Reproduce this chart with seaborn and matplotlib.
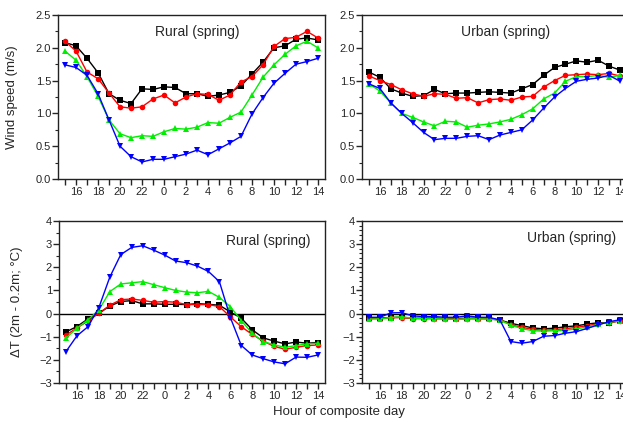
import matplotlib
matplotlib.use("Agg")
import matplotlib.pyplot as plt
import numpy as np
import pandas as pd
import seaborn as sns
from matplotlib.ticker import MultipleLocator, FixedLocator

# hours of the composite day (15:00 -> 14:00 next day)
hours = [15, 16, 17, 18, 19, 20, 21, 22, 23, 0, 1, 2, 3, 4, 5, 6, 7, 8, 9, 10, 11, 12, 13, 14]
series_names = ["s1", "s2", "s3", "s4"]
series_colors = ["#000000", "#ff0000", "#00ee00", "#0000ff"]
series_markers = ["s", "o", "^", "v"]

# wind speed, rural (m/s)
rural_ws_s1 = [2.08, 2.03, 1.84, 1.62, 1.30, 1.20, 1.15, 1.375, 1.365, 1.405, 1.395, 1.30,
               1.30, 1.26, 1.28, 1.32, 1.42, 1.60, 1.78, 2.00, 2.03, 2.13, 2.15, 2.12]
rural_ws_s2 = [2.10, 1.95, 1.63, 1.53, 1.31, 1.10, 1.08, 1.10, 1.22, 1.28, 1.16, 1.25,
               1.30, 1.29, 1.20, 1.28, 1.48, 1.56, 1.74, 2.02, 2.14, 2.16, 2.25, 2.15]
rural_ws_s3 = [1.95, 1.81, 1.56, 1.26, 0.90, 0.69, 0.63, 0.66, 0.65, 0.72, 0.77, 0.76,
               0.79, 0.86, 0.85, 0.94, 1.02, 1.28, 1.55, 1.74, 1.90, 2.03, 2.10, 2.00]
rural_ws_s4 = [1.74, 1.70, 1.58, 1.30, 0.90, 0.50, 0.34, 0.26, 0.30, 0.30, 0.34, 0.38,
               0.44, 0.37, 0.46, 0.55, 0.65, 0.99, 1.24, 1.46, 1.61, 1.75, 1.79, 1.84]

# wind speed, urban (m/s)
urban_ws_s1 = [1.63, 1.55, 1.375, 1.31, 1.26, 1.27, 1.365, 1.30, 1.31, 1.31, 1.32, 1.33,
               1.32, 1.31, 1.375, 1.44, 1.58, 1.70, 1.75, 1.80, 1.78, 1.81, 1.72, 1.66]
urban_ws_s2 = [1.57, 1.50, 1.44, 1.36, 1.30, 1.26, 1.30, 1.29, 1.23, 1.24, 1.16, 1.21,
               1.22, 1.20, 1.25, 1.26, 1.40, 1.50, 1.58, 1.59, 1.60, 1.59, 1.61, 1.57]
urban_ws_s3 = [1.45, 1.34, 1.16, 1.00, 0.94, 0.87, 0.81, 0.88, 0.87, 0.79, 0.82, 0.84,
               0.87, 0.91, 0.98, 1.07, 1.22, 1.31, 1.49, 1.56, 1.56, 1.58, 1.55, 1.58]
urban_ws_s4 = [1.45, 1.38, 1.16, 1.00, 0.86, 0.71, 0.60, 0.62, 0.62, 0.65, 0.66, 0.60,
               0.67, 0.71, 0.75, 0.90, 1.08, 1.25, 1.38, 1.49, 1.52, 1.54, 1.58, 1.49]

# delta T (2m - 0.2m), rural
rural_dt_s1 = [-0.79, -0.56, -0.23, 0.01, 0.33, 0.52, 0.56, 0.42, 0.42, 0.40, 0.40, 0.39,
               0.43, 0.40, 0.36, 0.07, -0.20, -0.70, -1.05, -1.19, -1.31, -1.23, -1.28, -1.25]
rural_dt_s2 = [-0.93, -0.62, -0.32, 0.01, 0.36, 0.60, 0.63, 0.57, 0.49, 0.52, 0.49, 0.39,
               0.39, 0.39, 0.30, -0.14, -0.57, -0.90, -1.19, -1.42, -1.54, -1.46, -1.38, -1.36]
rural_dt_s3 = [-1.06, -0.63, -0.27, 0.16, 0.95, 1.28, 1.33, 1.38, 1.25, 1.12, 1.00, 0.93,
               0.90, 0.96, 0.70, 0.30, -0.30, -0.86, -1.21, -1.35, -1.46, -1.38, -1.31, -1.28]
rural_dt_s4 = [-1.64, -0.96, -0.57, 0.26, 1.58, 2.55, 2.86, 2.93, 2.74, 2.53, 2.27, 2.20,
               2.05, 1.82, 1.38, -0.17, -1.38, -1.79, -1.95, -2.09, -2.17, -1.88, -1.89, -1.79]

# delta T (2m - 0.2m), urban
urban_dt_s1 = [-0.18, -0.19, -0.17, -0.16, -0.20, -0.20, -0.19, -0.21, -0.22, -0.20, -0.20, -0.21,
               -0.28, -0.42, -0.52, -0.62, -0.66, -0.63, -0.57, -0.53, -0.45, -0.40, -0.40, -0.30]
urban_dt_s2 = [-0.21, -0.21, -0.18, -0.17, -0.22, -0.22, -0.22, -0.23, -0.24, -0.22, -0.22, -0.23,
               -0.28, -0.48, -0.60, -0.68, -0.72, -0.70, -0.65, -0.60, -0.52, -0.44, -0.40, -0.32]
urban_dt_s3 = [-0.24, -0.23, -0.17, -0.14, -0.20, -0.21, -0.22, -0.24, -0.25, -0.23, -0.23, -0.24,
               -0.28, -0.50, -0.65, -0.74, -0.76, -0.74, -0.72, -0.66, -0.58, -0.46, -0.37, -0.32]
urban_dt_s4 = [-0.16, -0.16, 0.03, 0.04, -0.10, -0.13, -0.13, -0.16, -0.16, -0.10, -0.16, -0.16,
               -0.28, -1.21, -1.28, -1.21, -0.98, -0.95, -0.85, -0.78, -0.64, -0.49, -0.35, -0.27]


def to_long(series_list):
    rows = []
    for name, vals in zip(series_names, series_list):
        for i, v in enumerate(vals):
            rows.append({"idx": i, "value": v, "series": name})
    return pd.DataFrame(rows)


sns.set_theme(style="ticks")
plt.rcParams["font.family"] = ["Liberation Sans", "DejaVu Sans"]
plt.rcParams["axes.linewidth"] = 1.0
plt.rcParams["xtick.direction"] = "out"
plt.rcParams["ytick.direction"] = "out"

fig = plt.figure(figsize=(6.23, 4.22), dpi=100)
W, H = 623.0, 422.0


def make_ax(left, top, right, bottom):
    return fig.add_axes([left / W, 1 - bottom / H, (right - left) / W, (bottom - top) / H])


ax_tl = make_ax(58, 15, 325, 179)
ax_tr = make_ax(362, 15, 627, 179)
ax_bl = make_ax(59, 221, 325, 383)
ax_br = make_ax(362, 221, 627, 383)

panels = [
    (ax_tl, [rural_ws_s1, rural_ws_s2, rural_ws_s3, rural_ws_s4], "Rural (spring)", (0.52, 0.895)),
    (ax_tr, [urban_ws_s1, urban_ws_s2, urban_ws_s3, urban_ws_s4], "Urban (spring)", (0.54, 0.895)),
    (ax_bl, [rural_dt_s1, rural_dt_s2, rural_dt_s3, rural_dt_s4], "Rural (spring)", (0.785, 0.877)),
    (ax_br, [urban_dt_s1, urban_dt_s2, urban_dt_s3, urban_dt_s4], "Urban (spring)", (0.79, 0.893)),
]

palette = dict(zip(series_names, series_colors))
markers = dict(zip(series_names, series_markers))

for k, (ax, data, title, tpos) in enumerate(panels):
    df = to_long(data)
    if k >= 2:
        ax.axhline(0, color="black", lw=1.0, zorder=1)
    sns.lineplot(data=df, x="idx", y="value", hue="series", style="series",
                 palette=palette, markers=markers, dashes=False, ax=ax,
                 lw=1.0, markersize=4, markeredgewidth=0, legend=False, zorder=3)
    ax.set_xlim(-0.64, 23.64)
    ax.xaxis.set_major_locator(FixedLocator(list(range(1, 24, 2))))
    ax.set_xticklabels([str(hours[i]) for i in range(1, 24, 2)])
    ax.xaxis.set_minor_locator(FixedLocator(list(range(0, 24, 2))))
    ax.tick_params(axis="x", which="both", length=4, width=1, labelsize=8, pad=1.5)
    ax.tick_params(axis="y", which="major", length=4, width=1, labelsize=8, pad=1)
    ax.tick_params(axis="y", which="minor", length=2, width=0.8)
    ax.set_xlabel("")
    ax.set_ylabel("")
    for s in ax.spines.values():
        s.set_visible(True)
        s.set_color("#222222")
    ax.text(tpos[0], tpos[1], title, transform=ax.transAxes, ha="center", va="center",
            fontsize=10)
    if k < 2:
        ax.set_ylim(0, 2.5)
        ax.yaxis.set_major_locator(MultipleLocator(0.5))
        ax.yaxis.set_minor_locator(MultipleLocator(0.25))
        ax.yaxis.set_major_formatter(matplotlib.ticker.FormatStrFormatter("%.1f"))
    else:
        ax.set_ylim(-3, 4)
        ax.yaxis.set_major_locator(MultipleLocator(1))
        ax.yaxis.set_minor_locator(MultipleLocator(0.5 if k == 2 else 0.2))

ax_tl.set_ylabel("Wind speed (m/s)", fontsize=9.5)
ax_tl.yaxis.set_label_coords(-0.15, 0.5)
ax_bl.set_ylabel("ΔT (2m - 0.2m; °C)", fontsize=9.5)
ax_bl.yaxis.set_label_coords(-0.135, 0.5)

fig.text(339 / W, 1 - 412 / H, "Hour of composite day", ha="center", va="center", fontsize=9.5)

fig.savefig("out.png", dpi=100)
